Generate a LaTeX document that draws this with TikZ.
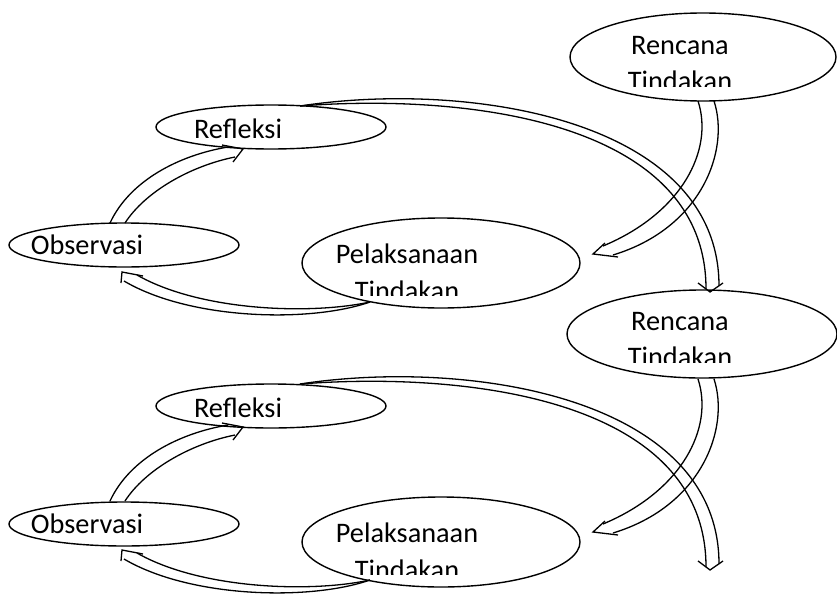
\documentclass[tikz,border=0pt]{standalone}
\usepackage{fontspec}
\setmainfont{Carlito}
\usetikzlibrary{shapes.geometric}
\begin{document}
\begin{tikzpicture}[x=1pt,y=-1pt,line width=1.4pt,
  oval/.style={draw, ellipse, fill=white, inner sep=0pt},
  lbl/.style={anchor=base, inner sep=0pt, font=\fontsize{28.3}{34}\selectfont},
  arr/.style={line width=1.3pt}]
\useasboundingbox (0,0) rectangle (837,594);

% ---------- ellipses ----------
\node[oval, minimum width=266pt, minimum height=88pt] (ren1) at (703,57) {};
\node[oval, minimum width=270pt, minimum height=88pt] (ren2) at (702,334) {};
\node[oval, minimum width=230pt, minimum height=44pt] (ref1) at (271,127) {};
\node[oval, minimum width=230pt, minimum height=44pt] (obs1) at (124,245) {};
\node[oval, minimum width=278pt, minimum height=90pt] (pel1) at (441,263) {};
\begin{scope}[yshift=-279pt]
\node[oval, minimum width=230pt, minimum height=44pt] (ref2) at (271,127) {};
\node[oval, minimum width=230pt, minimum height=44pt] (obs2) at (124,245) {};
\node[oval, minimum width=278pt, minimum height=90pt] (pel2) at (441,263) {};
\end{scope}

% ---------- texts ----------
\begin{scope}
\clip (560,0) rectangle (837,86);
\node[lbl] (ren1a) at (680,55) {Rencana};
\node[lbl] (ren1b) at (680,90) {Tindakan};
\end{scope}
\begin{scope}
\clip (560,290) rectangle (837,362);
\node[lbl] (ren2a) at (680,330) {Rencana};
\node[lbl] (ren2b) at (680,366) {Tindakan};
\end{scope}
\node[lbl] (ref1t) at (238,138) {Refleksi};
\node[lbl] (obs1t) at (87,254) {Observasi};
\begin{scope}
\clip (300,215) rectangle (585,295);
\node[lbl] (pel1a) at (407,263) {Pelaksanaan};
\node[lbl] (pel1b) at (407,300) {Tindakan};
\end{scope}
\begin{scope}[yshift=-279pt]
\node[lbl] (ref2t) at (238,138) {Refleksi};
\node[lbl] (obs2t) at (87,254) {Observasi};
\begin{scope}
\clip (300,215) rectangle (585,295);
\node[lbl] (pel2a) at (407,263) {Pelaksanaan};
\node[lbl] (pel2b) at (407,300) {Tindakan};
\end{scope}
\end{scope}

% ---------- arrows (one cycle, drawn twice) ----------
\foreach \s in {0,278}{
\begin{scope}[yshift=-\s pt]
% Refleksi -> next Rencana (big arc)
\draw[arr] (300,106) .. controls (470,80) and (719,120) .. (719,286);
\draw[arr] (300,106) .. controls (470,93) and (706,122) .. (706,289);
\draw[arr] (698,283) -- (710,292) -- (723,283);
% Rencana -> Pelaksanaan
\draw[arr] (714,101) .. controls (730,150) and (702,228) .. (613,255);
\draw[arr] (698,101) .. controls (714,150) and (682,213) .. (603,246);
\draw[arr] (605,243) -- (593,254) -- (618,257);
% Observasi -> Refleksi
\draw[arr] (110,223) .. controls (130,180) and (180,155) .. (228,147);
\draw[arr] (125,223) .. controls (145,192) and (190,166) .. (235,157);
\draw[arr] (222,145) -- (243,149) -- (233,162);
% Pelaksanaan -> Observasi
\draw[arr] (370,302) .. controls (310,323) and (190,320) .. (124,281);
\draw[arr] (370,302) .. controls (310,315) and (200,311) .. (137,275);
\draw[arr] (143,276) -- (122,272) -- (121,283);
\end{scope}}
\end{tikzpicture}
\end{document}
